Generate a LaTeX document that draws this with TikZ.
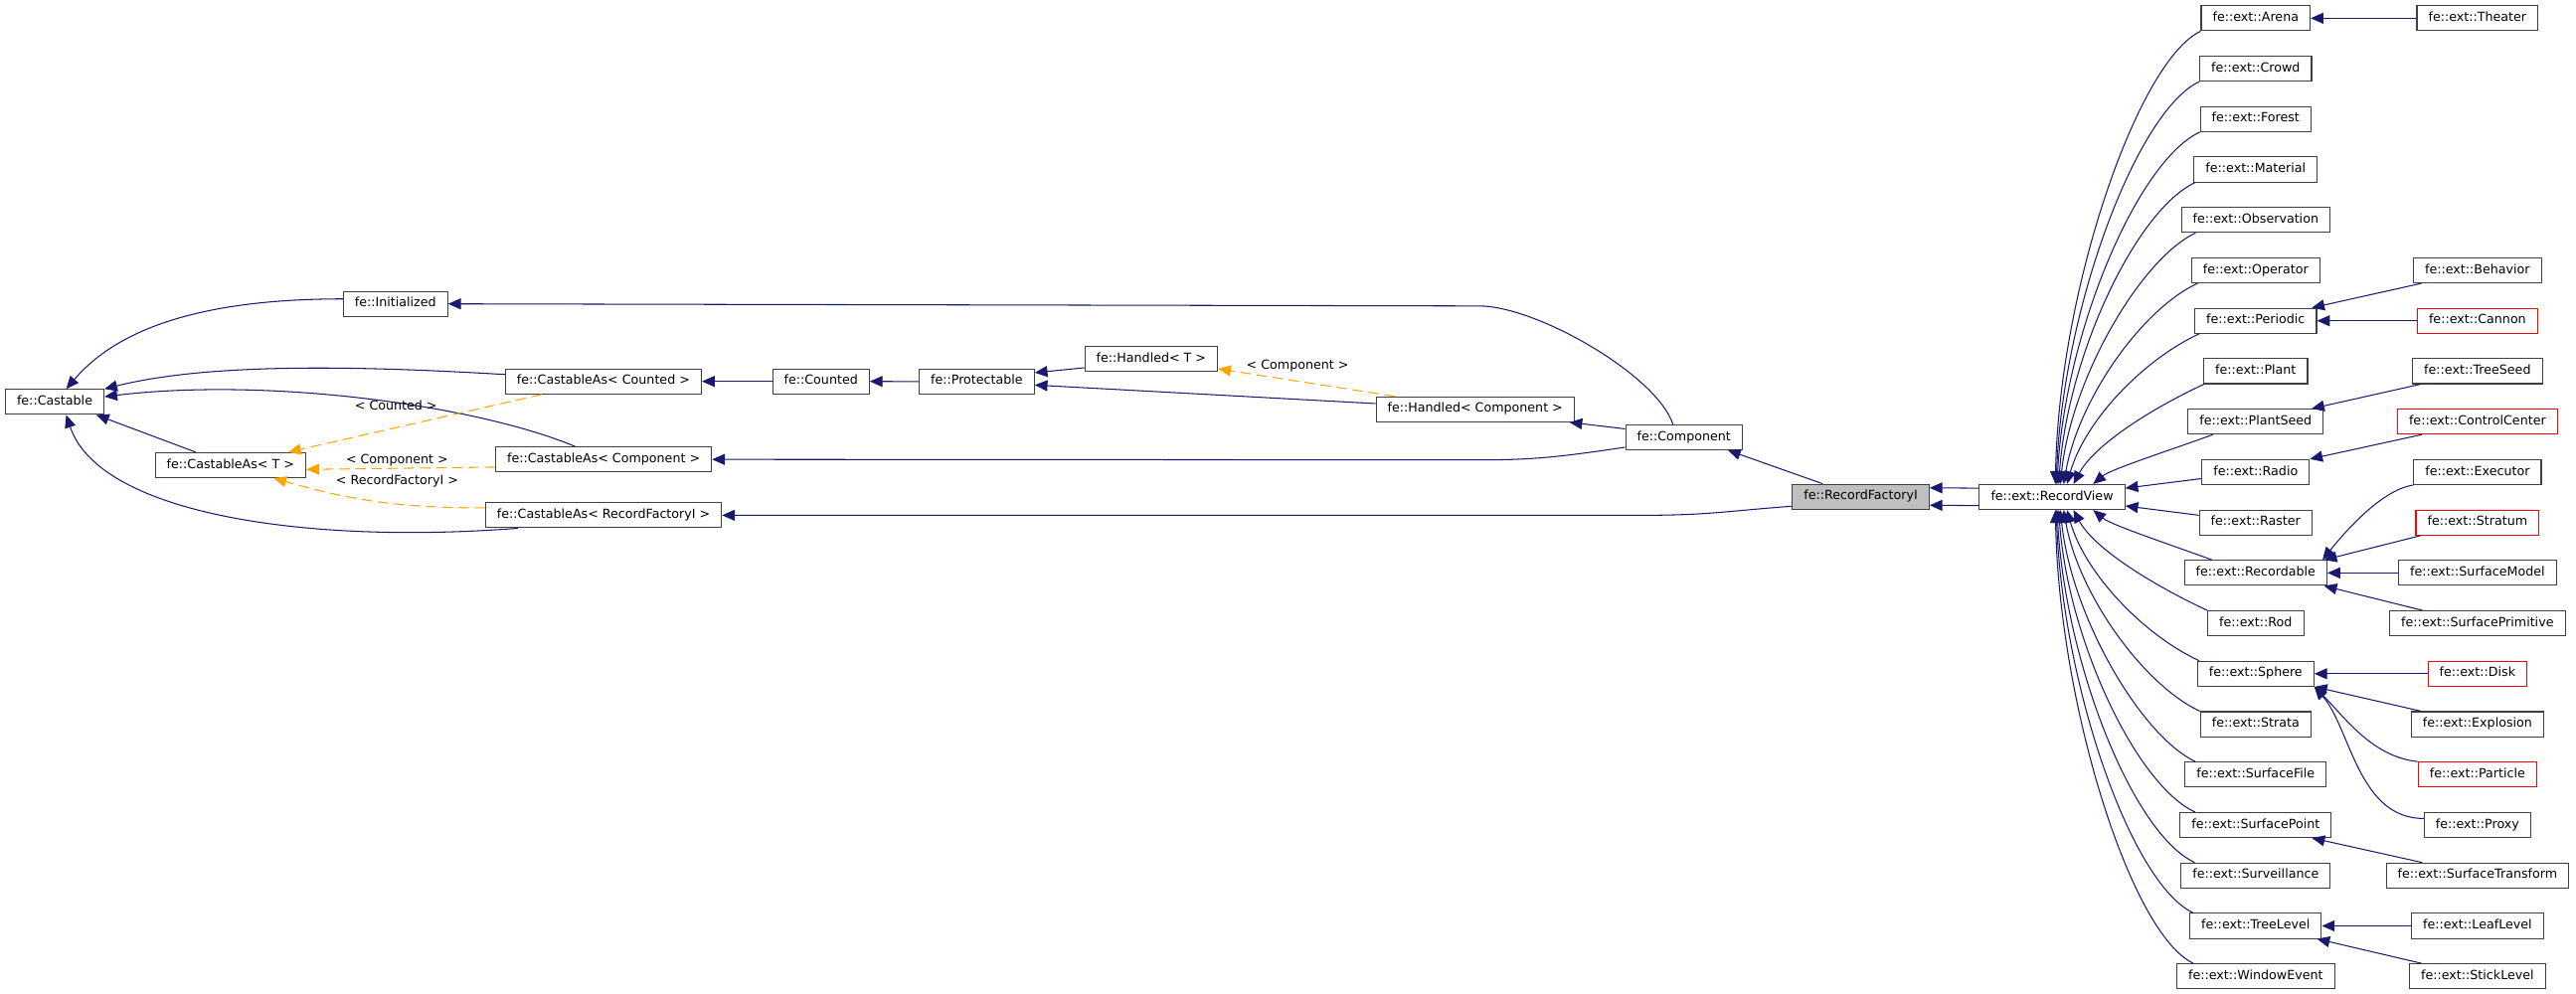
\documentclass[tikz,border=0pt]{standalone}
\usepackage{fontspec}
\setmainfont{DejaVu Sans}
\usepackage{xcolor}
\usepackage{tikz}
\usetikzlibrary{arrows.meta, positioning}

\definecolor{edgeblue}{HTML}{191970}
\definecolor{tmplorange}{HTML}{FFA500}
\definecolor{boxgrey}{HTML}{BFBFBF}
\definecolor{boxline}{HTML}{404040}

\tikzset{
    cls/.style={draw=boxline, line width=0.9pt, fill=white, inner xsep=3.5mm, inner ysep=0pt,
        minimum height=7.6mm, text height=8pt, text depth=2.6pt, font=\fontsize{10.9}{13}\selectfont},
    lbl/.style={inner sep=0pt, text height=8pt, text depth=2.6pt, font=\fontsize{10.9}{13}\selectfont},
    inh/.style={edgeblue, line width=0.9pt, -{Triangle[length=11pt, width=9.5pt]}},
    tmpl/.style={tmplorange, line width=0.9pt, dash pattern=on 9pt off 5pt, -{Triangle[length=11pt, width=9.5pt]}}
}

\begin{document}
\begin{tikzpicture}[x=0.5mm, y=-0.5mm]
    \fill[white] (0,0) rectangle (1568,605);
    \useasboundingbox (0,0) rectangle (1568,605);

    % 1. Các lớp cơ sở bên trái
    \node[cls] (castable) at (33.3,244.7) {fe::Castable};
    \node[cls] (initialized) at (240.7,185) {fe::Initialized};
    \node[cls] (asT) at (140.3,283.2) {fe::CastableAs< T >};
    \node[cls] (asCounted) at (367.3,232.2) {fe::CastableAs< Counted >};
    \node[cls] (asComponent) at (367.4,279.7) {fe::CastableAs< Component >};
    \node[cls] (asFactory) at (367.4,313.7) {fe::CastableAs< RecordFactoryI >};
    \node[cls] (counted) at (499.7,232.2) {fe::Counted};
    \node[cls] (protectable) at (594.5,232.3) {fe::Protectable};
    \node[cls] (handledT) at (700.7,218.6) {fe::Handled< T >};
    \node[cls] (handledComp) at (897.9,249.2) {fe::Handled< Component >};
    \node[cls] (component) at (1025,266.2) {fe::Component};
    \node[cls, fill=boxgrey] (factory) at (1132.6,302.4) {fe::RecordFactoryI};
    \node[cls] (recordView) at (1249.1,302.6) {fe::ext::RecordView};

    % 2. Cột giữa và cột phải
    \foreach \n [count=\i from 0] in {Arena,Crowd,Forest,Material,Observation,Operator,Periodic,Plant,PlantSeed,Radio,Raster,Recordable,Rod,Sphere,Strata,SurfaceFile,SurfacePoint,Surveillance,TreeLevel,WindowEvent}
        \node[cls] (\n) at (1373,{11.1+30.7*\i}) {fe::ext::\n};
    \foreach \n/\k/\c in {Theater/0/boxline, Behavior/5/boxline, Cannon/6/red, TreeSeed/7/boxline, ControlCenter/8/red, Executor/9/boxline, Stratum/10/red, SurfaceModel/11/boxline, SurfacePrimitive/12/boxline, Disk/13/red, Explosion/14/boxline, Particle/15/red, Proxy/16/boxline, SurfaceTransform/17/boxline, LeafLevel/18/boxline, StickLevel/19/boxline}
        \node[cls, draw=\c] (\n) at (1508,{11.1+30.7*\k}) {fe::ext::\n};

    % 3. Cạnh kế thừa về fe::Castable
    \draw[inh] ([yshift=1.5mm]initialized.west) .. controls +(-90,0) and +(30,-35) .. ([xshift=3.5mm]castable.north);
    \draw[inh] ([yshift=2.1mm]asCounted.west) .. controls +(-100,-6) and +(60,-15) .. (castable.north east);
    \draw[inh] ([xshift=-8.7mm]asComponent.north) .. controls +(-60,-25) and +(100,-12) .. ([yshift=1.6mm]castable.east);
    \draw[inh] ([xshift=-10.6mm]asT.north) -- ([xshift=-2.5mm]castable.south east);
    \draw[inh] ([xshift=10mm]asFactory.south west) .. controls +(-130,10) and +(20,60) .. ([xshift=3.5mm]castable.south);

    % 4. Cạnh mẫu (nét đứt, màu cam) và nhãn
    \draw[tmpl] ([xshift=-18.75mm]asCounted.south) -- ([xshift=17.6mm]asT.north);
    \draw[tmpl] ([yshift=-2.35mm]asComponent.west) -- ([yshift=-1.3mm]asT.east);
    \draw[tmpl] ([yshift=2.25mm]asFactory.west) to[bend left=8] ([xshift=-9.9mm]asT.south east);
    \draw[tmpl] ([xshift=5.85mm]handledComp.north west) -- ([yshift=1mm]handledT.south east);
    \node[lbl] (lblCounted) at (241,248) {< Counted >};
    \node[lbl] (lblComponent) at (241.7,280.3) {< Component >};
    \node[lbl] (lblFactory) at (241.7,292.9) {< RecordFactoryI >};
    \node[lbl] (lblHandled) at (789.8,222.9) {< Component >};

    % 5. Chuỗi Counted - Protectable - Handled - Component
    \draw[inh] (counted.west) -- (asCounted.east);
    \draw[inh] (protectable.west) -- (counted.east);
    \draw[inh] ([yshift=-2.65mm]handledT.west) -- ([yshift=2.7mm]protectable.east);
    \draw[inh] ([yshift=1.75mm]handledComp.west) -- ([yshift=-1.05mm]protectable.east);
    \draw[inh] ([yshift=2.55mm]component.west) -- ([xshift=-1.6mm]handledComp.south east);
    \draw[inh] ([xshift=-3.35mm]component.north) .. controls +(-10,-30) and +(35,0) .. ++(-118,-72) -- (initialized.east);
    \draw[inh] ([yshift=-3.05mm]component.west) .. controls +(-40,6) and +(30,0) .. ++(-87,7.7) -- (asComponent.east);

    % 6. fe::RecordFactoryI và fe::ext::RecordView
    \draw[inh] ([yshift=-2.9mm]factory.west) .. controls +(-40,3) and +(40,0) .. ++(-90.7,5.5) -- (asFactory.east);
    \draw[inh] ([xshift=-11.6mm]factory.north) -- ([xshift=-4.55mm]component.south east);
    \draw[inh] ([yshift=2.7mm]recordView.west) -- ([yshift=2.7mm]factory.east);
    \draw[inh] ([yshift=-2.6mm]recordView.west) -- ([yshift=-2.6mm]factory.east);

    % 7. Quạt cạnh từ cột giữa về fe::ext::RecordView
    \foreach \n/\sx/\o/\a/\od/\id/\ex in {Arena/0/205/89/21/59/1, Crowd/0/205/88/21/53/1.25, Forest/0/205/87/21/46/1.5, Material/0.5/205/86/20/39/2, Observation/4.5/205/84/18/33/2.5, Operator/2/205/80/19/26/3.5, Periodic/1.5/205/74/19/20/4.5, Plant/0.2/205/62/19/13/6.5, PlantSeed/7.7/200/40/14/7/12.5}
        \draw[inh] ([xshift=\sx mm]\n.south west) to[out=\o, in=\a, out distance=\od mm, in distance=\id mm] ([xshift=\ex mm]recordView.north);
    \foreach \n/\sx/\o/\a/\od/\id/\ex in {Recordable/8.6/160/-40/14/7/12.5, Rod/0/155/-62/19/13/6.5, Sphere/0.7/155/-74/19/20/4.5, Strata/0/155/-80/19/26/3.5, SurfaceFile/3.3/155/-84/18/33/2.5, SurfacePoint/4.7/155/-86/20/39/2, Surveillance/4.3/155/-87/21/46/1.5, TreeLevel/1.2/155/-88/21/53/1.25, WindowEvent/5.2/155/-89/21/59/1}
        \draw[inh] ([xshift=\sx mm]\n.north west) to[out=\o, in=\a, out distance=\od mm, in distance=\id mm] ([xshift=\ex mm]recordView.south);
    \draw[inh] ([yshift=-2mm]Radio.west) -- ([yshift=2.7mm]recordView.east);
    \draw[inh] ([yshift=2.2mm]Raster.west) -- ([yshift=-2.7mm]recordView.east);

    % 8. Cạnh từ cột phải về cột giữa
    \draw[inh] (Theater.west) -- (Arena.east);
    \draw[inh] ([xshift=2.6mm]Behavior.south west) -- ([xshift=-1.6mm]Periodic.north east);
    \draw[inh] (Cannon.west) -- (Periodic.east);
    \draw[inh] ([xshift=2.6mm]TreeSeed.south west) -- ([xshift=-3.7mm]PlantSeed.north east);
    \draw[inh] ([xshift=7.5mm]ControlCenter.south west) -- (Radio.north east);
    \draw[inh] (Executor.south west) .. controls +(-20,3) and +(12,-15) .. ([xshift=-1.5mm]Recordable.north east);
    \draw[inh] ([xshift=1.7mm]Stratum.south west) -- ([xshift=-1mm]Recordable.north east);
    \draw[inh] (SurfaceModel.west) -- (Recordable.east);
    \draw[inh] ([xshift=10.1mm]SurfacePrimitive.north west) -- ([xshift=-1mm]Recordable.south east);
    \draw[inh] (Disk.west) -- (Sphere.east);
    \draw[inh] ([xshift=3.2mm]Explosion.north west) -- (Sphere.south east);
    \draw[inh] (Particle.north west) .. controls +(-28,-3) and +(18,18) .. (Sphere.south east);
    \draw[inh] ([yshift=2mm]Proxy.west) .. controls +(-40,0) and +(22,25) .. (Sphere.south east);
    \draw[inh] ([xshift=11.1mm]SurfaceTransform.north west) -- ([xshift=-6mm]SurfacePoint.south east);
    \draw[inh] (LeafLevel.west) -- (TreeLevel.east);
    \draw[inh] ([xshift=3.8mm]StickLevel.north west) -- ([xshift=-1.5mm]TreeLevel.south east);

\end{tikzpicture}
\end{document}
